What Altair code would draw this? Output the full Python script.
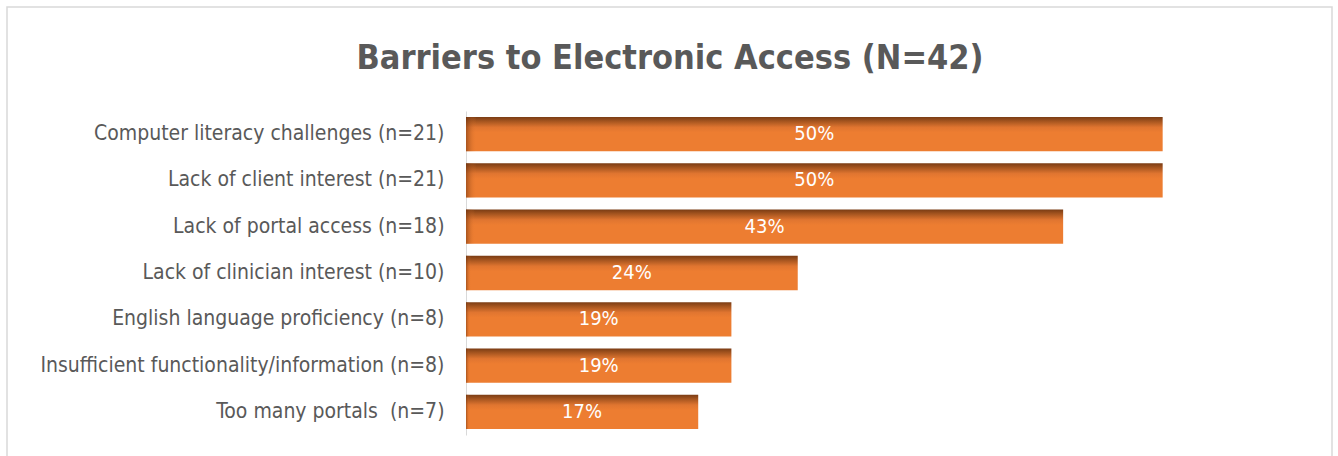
import altair as alt
import pandas as pd

categories = [
    "Computer literacy challenges (n=21)",
    "Lack of client interest (n=21)",
    "Lack of portal access (n=18)",
    "Lack of clinician interest (n=10)",
    "English language proficiency (n=8)",
    "Insufficient functionality/information (n=8)",
    "Too many portals\u00a0 (n=7)",
]
counts = [21, 21, 18, 10, 8, 8, 7]
total_n = 42

df = pd.DataFrame({"category": categories, "count": counts})
df["share"] = df["count"] / total_n

W, H = 836, 324
LEFT, TOP = 466, 111
FONT = "DejaVu Sans Condensed, sans-serif"

y_enc = alt.Y("category:N", sort=categories, title=None,
              scale=alt.Scale(paddingInner=0.26, paddingOuter=0.13),
              axis=alt.Axis(domainColor="#d9d9d9", domainWidth=1, ticks=False,
                            labelFontSize=21, labelColor="#595959", labelFont=FONT,
                            labelPadding=22, labelLimit=0))
x_enc = alt.X("share:Q", scale=alt.Scale(domain=[0, 0.6]), axis=None)

grad = alt.Gradient(
    gradient="linear",
    stops=[
        alt.GradientStop(color="#7a3c14", offset=0),
        alt.GradientStop(color="#a4541f", offset=0.12),
        alt.GradientStop(color="#e07530", offset=0.3),
        alt.GradientStop(color="#ED7D31", offset=0.45),
        alt.GradientStop(color="#ED7D31", offset=1),
    ],
    x1=0, x2=0, y1=0, y2=1,
)
edge = alt.Gradient(
    gradient="linear",
    stops=[
        alt.GradientStop(color="rgba(110,50,15,0.55)", offset=0),
        alt.GradientStop(color="rgba(237,125,49,0)", offset=0.015),
        alt.GradientStop(color="rgba(237,125,49,0)", offset=1),
    ],
    x1=0, x2=1, y1=0, y2=0,
)

bars = alt.Chart(df).mark_bar(color=grad).encode(y=y_enc, x=x_enc)
bars_edge = alt.Chart(df).mark_bar(color=edge).encode(
    y=alt.Y("category:N", sort=categories), x=alt.X("share:Q"))

text = alt.Chart(df).transform_calculate(
    mid="datum.share / 2"
).mark_text(color="white", fontSize=20, font=FONT, align="center", baseline="middle").encode(
    y=alt.Y("category:N", sort=categories),
    x=alt.X("mid:Q"),
    text=alt.Text("share:Q", format=".0%"),
)

frame = alt.Chart(alt.Data(values=[{"a": 1}])).mark_rect(
    fill="transparent", stroke="#d9d9d9", strokeWidth=1.5
).encode(
    x=alt.value(7 - LEFT), x2=alt.value(1332 - LEFT),
    y=alt.value(7 - TOP), y2=alt.value(470 - TOP),
)

chart = alt.layer(frame, bars, bars_edge, text).properties(
    width=W, height=H,
    title=alt.TitleParams(
        text="Barriers to Electronic Access (N=42)",
        fontSize=34, font=FONT, fontWeight="bold", color="#595959",
        anchor="middle", frame="group", dx=-214, offset=-97, baseline="alphabetic",
    ),
    autosize=alt.AutoSizeParams(type="none"),
    padding={"left": LEFT, "top": TOP, "right": 1338 - LEFT - W, "bottom": 456 - TOP - H},
).configure(background="white").configure_view(stroke="transparent", strokeWidth=0)

chart.save("out.html", embed_options={"renderer": "svg", "actions": False})
